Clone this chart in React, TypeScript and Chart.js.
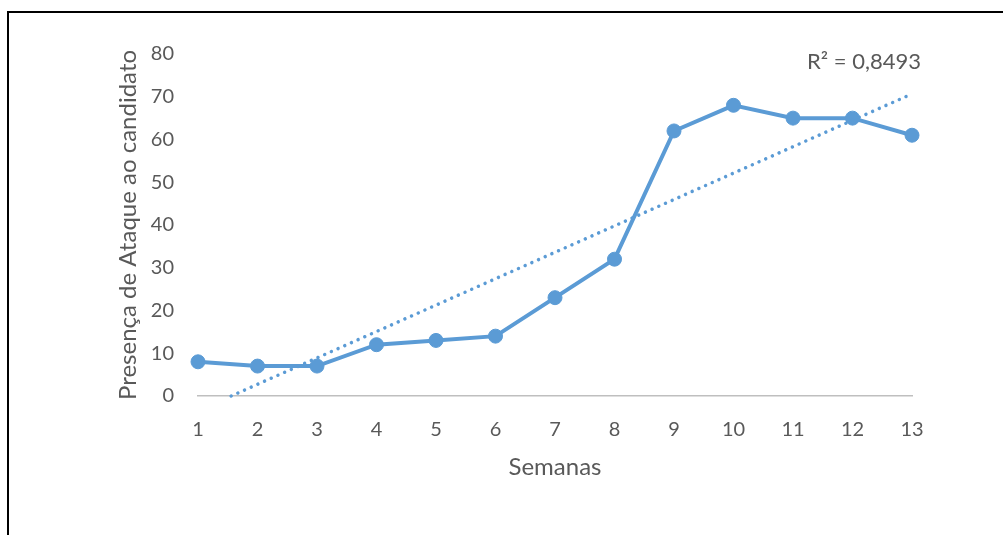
import React, { useEffect, useRef } from "react";
import { Chart, registerables } from "chart.js";

Chart.register(...registerables);

const weeks = [1, 2, 3, 4, 5, 6, 7, 8, 9, 10, 11, 12, 13];
const presence = [8, 7, 7, 12, 13, 14, 23, 32, 62, 68, 65, 65, 61];
const yTicks = [0, 10, 20, 30, 40, 50, 60, 70, 80];
const xTitle = "Semanas";
const yTitle = "Presença de Ataque ao candidato";
const r2Label = "R² = 0,8493";

const BLUE = "#5B9BD5";
const TEXT = "#595959";

function linearTrend(xs: number[], ys: number[]) {
  const n = xs.length;
  const mx = xs.reduce((a, b) => a + b, 0) / n;
  const my = ys.reduce((a, b) => a + b, 0) / n;
  let sxy = 0;
  let sxx = 0;
  for (let i = 0; i < n; i++) {
    sxy += (xs[i] - mx) * (ys[i] - my);
    sxx += (xs[i] - mx) * (xs[i] - mx);
  }
  const slope = sxy / sxx;
  const intercept = my - slope * mx;
  return { slope, intercept };
}

export default function App() {
  const ref = useRef<HTMLCanvasElement | null>(null);

  useEffect(() => {
    if (!ref.current) return;
    const { slope, intercept } = linearTrend(weeks, presence);
    const xMin = weeks[0];
    const xMax = weeks[weeks.length - 1];
    const yMin = yTicks[0];
    const xStart = Math.max(xMin, (yMin - intercept) / slope);
    const trend = [
      { x: xStart, y: slope * xStart + intercept },
      { x: xMax, y: slope * xMax + intercept },
    ];

    const r2Plugin = {
      id: "r2label",
      afterDatasetsDraw(chart: any) {
        const ctx = chart.ctx;
        ctx.save();
        ctx.font = "22px Lato";
        ctx.fillStyle = TEXT;
        ctx.textAlign = "left";
        ctx.textBaseline = "alphabetic";
        ctx.fillText(r2Label, 807, 69);
        ctx.restore();
      },
    };

    const chart = new Chart(ref.current, {
      type: "line",
      data: {
        datasets: [
          {
            label: "trend",
            data: trend,
            borderColor: BLUE,
            borderWidth: 3.5,
            borderDash: [0.01, 7.3],
            borderCapStyle: "round",
            pointRadius: 0,
            fill: false,
            clip: false,
            order: 0,
          },
          {
            label: "presence",
            data: weeks.map((w, i) => ({ x: w, y: presence[i] })),
            borderColor: BLUE,
            backgroundColor: BLUE,
            borderWidth: 4,
            pointRadius: 7,
            pointBackgroundColor: BLUE,
            pointBorderColor: BLUE,
            pointBorderWidth: 1,
            fill: false,
            tension: 0,
            clip: false,
            order: 1,
          },
        ],
      },
      options: {
        responsive: false,
        animation: false,
        layout: { padding: { left: 100, right: 91, top: 54, bottom: 0 } },
        plugins: {
          legend: { display: false },
          tooltip: { enabled: false },
        },
        scales: {
          x: {
            type: "linear",
            min: xMin,
            max: xMax,
            offset: false,
            grid: { display: false, drawTicks: false },
            border: { display: true, color: "#BFBFBF", width: 1.5 },
            ticks: {
              stepSize: 1,
              padding: 22,
              color: TEXT,
              font: { family: "Lato", size: 20 },
              autoSkip: false,
              maxRotation: 0,
            },
            title: {
              display: true,
              text: xTitle,
              color: TEXT,
              font: { family: "Lato", size: 24 },
              padding: { top: 0, bottom: 53 },
            },
            afterFit(scale: any) {
              scale.height = 139;
            },
          },
          y: {
            type: "linear",
            min: yTicks[0],
            max: yTicks[yTicks.length - 1],
            grid: { display: false, drawTicks: false },
            border: { display: false },
            ticks: {
              stepSize: 10,
              padding: 24,
              color: TEXT,
              font: { family: "Lato", size: 20 },
            },
            title: {
              display: true,
              text: yTitle,
              color: TEXT,
              font: { family: "Lato", size: 24 },
              padding: { top: 13.6, bottom: 0 },
            },
            afterFit(scale: any) {
              scale.width = 98;
            },
          },
        },
      },
      plugins: [r2Plugin],
    } as any);

    return () => chart.destroy();
  }, []);

  return (
    <>
      <canvas
        ref={ref}
        width={1003}
        height={535}
        style={{ position: "fixed", left: 0, top: 0, width: 1003, height: 535 }}
      />
      <div
        style={{
          position: "fixed",
          left: 7,
          top: 11,
          width: 1100,
          height: 600,
          borderTop: "2px solid #000",
          borderLeft: "2px solid #000",
          pointerEvents: "none",
        }}
      />
    </>
  );
}
